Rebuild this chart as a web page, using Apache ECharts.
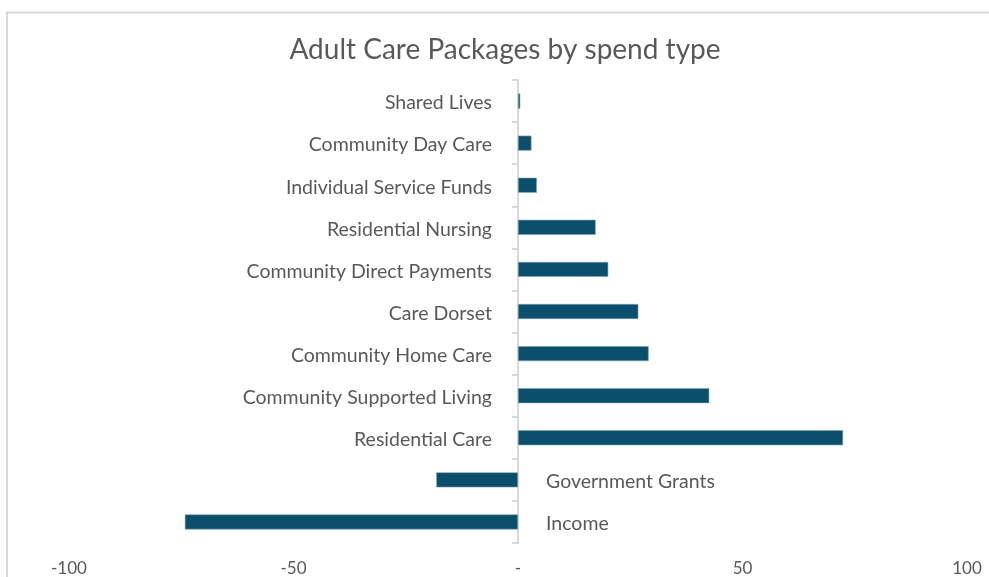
<!DOCTYPE html>
<html>
<head>
<meta charset="utf-8">
<script src="https://cdn.jsdelivr.net/npm/echarts@6/dist/echarts.min.js"></script>
<style>
  html, body { margin: 0; padding: 0; background: #ffffff; }
  #chart { width: 989px; height: 577px; }
</style>
</head>
<body>
<div id="chart"></div>
<script>
// Spend types, top to bottom
const categories = [
  'Shared Lives',
  'Community Day Care',
  'Individual Service Funds',
  'Residential Nursing',
  'Community Direct Payments',
  'Care Dorset',
  'Community Home Care',
  'Community Supported Living',
  'Residential Care',
  'Government Grants',
  'Income'
];
// Net spend per type (negative = money coming in)
const spend = [0.5, 3.0, 4.2, 17.3, 20.1, 26.8, 29.1, 42.6, 72.4, -18.2, -74.2];
// Value axis ticks
const axisMin = -100;
const axisMax = 100;
const axisStep = 50;

const FONT = 'Lato, "Noto Sans", sans-serif';
const TEXT = '#595959';

const chart = echarts.init(document.getElementById('chart'));

// Category names sit beside the zero line, on the side away from the bar
const barData = spend.map(v => ({
  value: v,
  label: {
    position: v >= 0 ? 'left' : 'right',
    distance: v >= 0 ? 26 : 28
  }
}));

chart.setOption({
  backgroundColor: '#ffffff',
  animation: false,
  title: {
    text: 'Adult Care Packages by spend type',
    left: 500,
    textAlign: 'center',
    top: 31,
    textStyle: { fontFamily: FONT, fontSize: 28, fontWeight: 'normal', color: TEXT }
  },
  graphic: [{
    type: 'rect',
    shape: { x: 7, y: 12.5, width: 1200, height: 800 },
    style: { fill: 'none', stroke: '#d9d9d9', lineWidth: 2 },
    silent: true
  }],
  grid: { left: 69, right: 22, top: 80, bottom: 32, containLabel: false },
  xAxis: {
    type: 'value',
    min: axisMin,
    max: axisMax,
    interval: axisStep,
    axisLine: { show: false },
    axisTick: { show: false },
    splitLine: { show: false },
    axisLabel: {
      margin: 17,
      fontFamily: FONT,
      fontSize: 17,
      color: TEXT,
      formatter: v => (v === 0 ? '-' : String(v))
    }
  },
  yAxis: {
    type: 'category',
    data: categories,
    inverse: true,
    axisLine: { show: true, onZero: true, lineStyle: { color: '#d9d9d9', width: 2 } },
    axisTick: { show: true, length: 6, lineStyle: { color: '#d9d9d9', width: 2 } },
    axisLabel: { show: false },
    splitLine: { show: false }
  },
  series: [{
    type: 'bar',
    data: barData,
    barWidth: 15,
    itemStyle: { color: '#0b4f6c', borderColor: '#7fa2b4', borderWidth: 0.6 },
    label: {
      show: true,
      formatter: p => p.name,
      fontFamily: FONT,
      fontSize: 19.5,
      color: TEXT,
      offset: [0, 2]
    }
  }]
});
</script>
</body>
</html>
